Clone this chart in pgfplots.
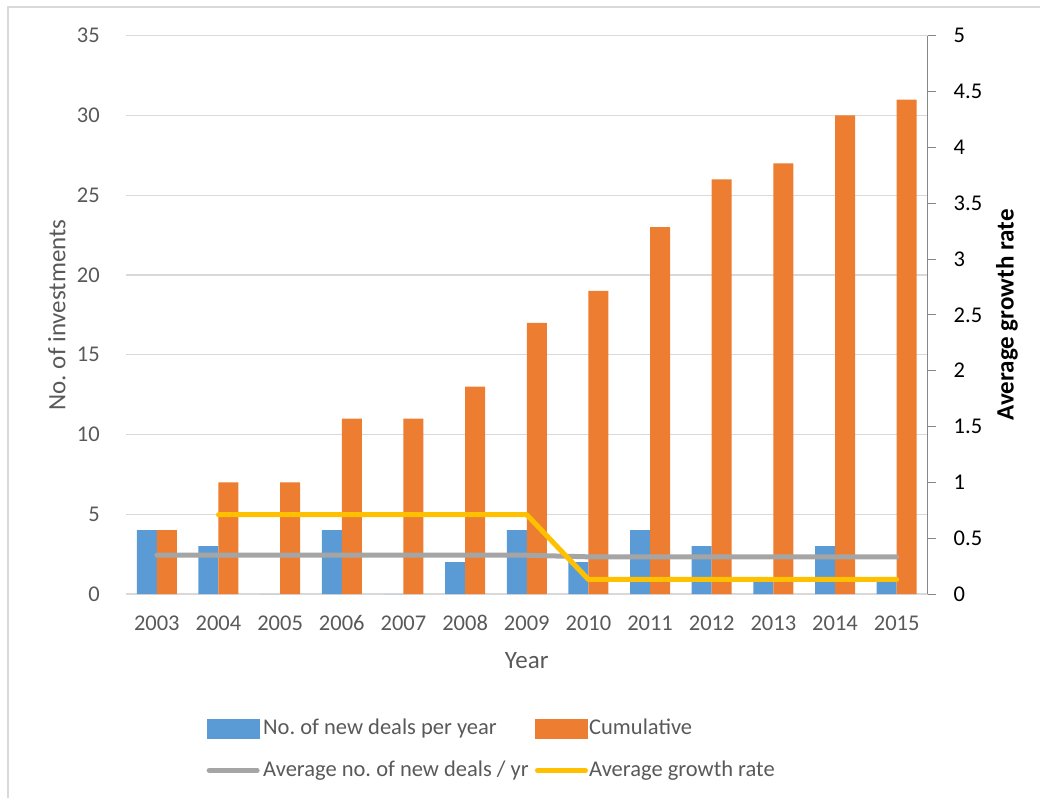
\documentclass[border=0pt]{standalone}
\usepackage{pgfplots}
\usepackage{pgfplotstable}
\pgfplotsset{compat=1.18}
\usepackage{fontspec}
\setmainfont{Carlito}

\definecolor{dealblue}{HTML}{5B9BD5}
\definecolor{cumorange}{HTML}{ED7D31}
\definecolor{avggray}{HTML}{A5A5A5}
\definecolor{rateyellow}{HTML}{FFC000}
\definecolor{gridgray}{HTML}{D9D9D9}
\definecolor{labelgray}{HTML}{595959}
\definecolor{axisgray}{HTML}{868686}

\newcommand{\tickfont}{\fontsize{22.5}{27}\selectfont}
\newcommand{\titlefont}{\fontsize{25}{30}\selectfont}

% x: 0 = 2003 ... 12 = 2015
\pgfplotstableread{
x  new cum avg
0  4   4   2.43
1  3   7   2.43
2  0   7   2.43
3  4   11  2.43
4  0   11  2.43
5  2   13  2.43
6  4   17  2.43
7  2   19  2.33
8  4   23  2.33
9  3   26  2.33
10 1   27  2.33
11 3   30  2.33
12 1   31  2.33
}\dealdata

\pgfplotstableread{
x  rate
1  0.71
2  0.71
3  0.71
4  0.71
5  0.71
6  0.71
7  0.13
8  0.13
9  0.13
10 0.13
11 0.13
12 0.13
}\ratedata

\begin{document}
\frenchspacing
\begin{tikzpicture}
\useasboundingbox (0,0) rectangle (1040pt,798pt);
\draw[gridgray, line width=1.5pt] (8pt,0pt) -- (8pt,791pt) -- (1040pt,791pt);

\begin{axis}[
  at={(126pt,204pt)}, anchor=south west,
  scale only axis, width=801.5pt, height=558.3pt,
  xmin=-0.5, xmax=12.5, ymin=0, ymax=35,
  xtick={0,1,2,3,4,5,6,7,8,9,10,11,12},
  xticklabels={2003,2004,2005,2006,2007,2008,2009,2010,2011,2012,2013,2014,2015},
  ytick={0,5,10,15,20,25,30,35},
  axis x line*=bottom, axis y line*=left,
  x axis line style={gridgray, line width=1.5pt},
  y axis line style={draw=none},
  major tick length=0pt,
  ymajorgrids, grid style={gridgray, line width=1.2pt},
  /pgf/number format/assume math mode=true,
  ticklabel style={font=\tickfont, text=labelgray, inner sep=0pt},
  yticklabel style={anchor=east, xshift=-26pt},
  xticklabel style={anchor=north, text height=14.5pt, text depth=0pt, yshift=-21.5pt},
  xlabel={Year}, ylabel={No. of investments},
  every axis x label/.style={at={(axis description cs:0.5,0)}, anchor=base, yshift=-74pt, font=\titlefont, text=labelgray},
  every axis y label/.style={at={(axis description cs:-0.0861,0.5)}, rotate=90, anchor=center, font=\titlefont, text=labelgray},
  legend columns=2,
  legend cell align=left,
  legend style={at={(axis description cs:0.0973,-0.2221)}, anchor=north west,
    draw=none, fill=none, font=\tickfont, text=labelgray,
    inner sep=0pt, row sep=19pt,
    nodes={inner sep=1pt},
    /tikz/every even column/.append style={column sep=5pt}},
]
\addplot[ybar, bar width=20pt, bar shift=-10pt, fill=dealblue, draw=none,
  legend image code/.code={\fill[dealblue] (0pt,-11pt) rectangle (53pt,9pt);}]
  table[x=x, y=new]{\dealdata};
\addlegendentry{No. of new deals per year}
\addplot[ybar, bar width=20pt, bar shift=10pt, fill=cumorange, draw=none,
  legend image code/.code={\fill[cumorange] (0pt,-11pt) rectangle (53pt,9pt);}]
  table[x=x, y=cum]{\dealdata};
\addlegendentry{Cumulative}
\addplot[avggray, line width=5pt, line cap=round, line join=round, mark=none,
  legend image code/.code={\path (0pt,-11pt) (53pt,9pt);
    \draw[avggray, line width=5pt, line cap=round] (2.5pt,-1pt) -- (50.5pt,-1pt);}]
  table[x=x, y=avg]{\dealdata};
\addlegendentry{Average no. of new deals / yr}
\addlegendimage{legend image code/.code={\path (0pt,-11pt) (53pt,9pt);
    \draw[rateyellow, line width=5pt, line cap=round] (2.5pt,-1pt) -- (50.5pt,-1pt);}}
\addlegendentry{Average growth rate}
\end{axis}

\begin{axis}[
  at={(126pt,204pt)}, anchor=south west,
  scale only axis, width=801.5pt, height=558.3pt,
  xmin=-0.5, xmax=12.5, ymin=0, ymax=5,
  axis x line=none, axis y line*=right,
  y axis line style={axisgray, line width=1pt},
  ytick={0,0.5,1,1.5,2,2.5,3,3.5,4,4.5,5},
  ytick style={axisgray, line width=1pt},
  tick align=outside, major tick length=8pt,
  /pgf/number format/assume math mode=true,
  yticklabel={\kern18pt\pgfmathprintnumber{\tick}},
  yticklabel style={font=\tickfont, text=black, inner sep=0pt, anchor=west},
  ylabel={Average growth rate},
  every axis y label/.style={at={(axis description cs:1.0992,0.5)}, rotate=90, anchor=center, font=\titlefont\bfseries, text=black},
]
\addplot[rateyellow, line width=5pt, line cap=round, line join=round, mark=none]
  table[x=x, y=rate]{\ratedata};
\end{axis}
\end{tikzpicture}
\end{document}
